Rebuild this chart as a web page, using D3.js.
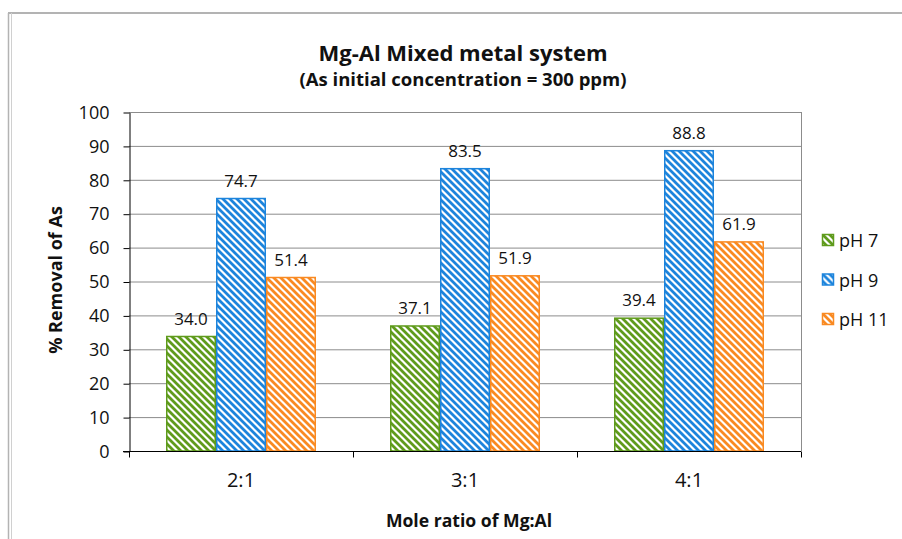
<!DOCTYPE html>
<html>
<head>
<meta charset="utf-8">
<script src="https://cdn.jsdelivr.net/npm/d3@7"></script>
<style>
  body { margin: 0; background: #fff; }
  svg { display: block; font-family: "Open Sans", sans-serif; }
</style>
</head>
<body>
<div id="chart"></div>
<script>
// --- data ---
const categories = ["2:1", "3:1", "4:1"];
const seriesNames = ["pH 7", "pH 9", "pH 11"];
const ph7 = [34.0, 37.1, 39.4];
const ph9 = [74.7, 83.5, 88.8];
const ph11 = [51.4, 51.9, 61.9];
const yTicks = [0, 10, 20, 30, 40, 50, 60, 70, 80, 90, 100];

const seriesValues = [ph7, ph9, ph11];
const colors = ["#5f9b1c", "#1d84dc", "#f98a22"];

const width = 902, height = 539;
const margin = { top: 112, right: 101, bottom: 88, left: 129 };

const svg = d3.select("#chart").append("svg")
  .attr("width", width)
  .attr("height", height);

// stripe patterns (wide downward diagonal)
const defs = svg.append("defs");
colors.forEach((c, i) => {
  const p = defs.append("pattern")
    .attr("id", "stripe" + i)
    .attr("patternUnits", "userSpaceOnUse")
    .attr("width", 7)
    .attr("height", 7);
  p.append("rect").attr("width", 7).attr("height", 7).attr("fill", "#fff");
  p.append("path")
    .attr("d", "M-1,-1 L8,8 M-8,-1 L1,8 M6,-1 L15,8")
    .attr("stroke", c)
    .attr("stroke-width", 2.8);
});

// outer chart frame
svg.append("line").attr("x1", 8).attr("x2", width).attr("y1", 13).attr("y2", 13)
  .attr("stroke", "#b3b3b3").attr("stroke-width", 2);
svg.append("line").attr("x1", 8.5).attr("x2", 8.5).attr("y1", 13).attr("y2", height)
  .attr("stroke", "#b3b3b3").attr("stroke-width", 1.5);
svg.append("line").attr("x1", 11.5).attr("x2", 11.5).attr("y1", 13).attr("y2", height)
  .attr("stroke", "#d0d0d0").attr("stroke-width", 1);

// titles
svg.append("text")
  .attr("x", 463).attr("y", 61)
  .attr("text-anchor", "middle")
  .attr("font-size", "22px").attr("font-weight", "bold").attr("fill", "#111")
  .text("Mg-Al Mixed metal system");
svg.append("text")
  .attr("x", 463).attr("y", 86)
  .attr("text-anchor", "middle")
  .attr("font-size", "18.5px").attr("font-weight", "bold").attr("fill", "#111")
  .text("(As initial concentration = 300 ppm)");

const x0 = d3.scaleBand()
  .domain(categories)
  .range([margin.left, width - margin.right]);

const groupW = 150;
const x1 = d3.scaleBand()
  .domain(seriesNames)
  .range([(x0.bandwidth() - groupW) / 2, (x0.bandwidth() + groupW) / 2]);

const y = d3.scaleLinear()
  .domain([0, 100])
  .range([height - margin.bottom, margin.top]);

// gridlines
svg.append("g")
  .selectAll("line")
  .data(yTicks.filter(d => d > 0))
  .join("line")
  .attr("x1", margin.left).attr("x2", width - margin.right)
  .attr("y1", d => y(d) + 0.5).attr("y2", d => y(d) + 0.5)
  .attr("stroke", "#8c8c8c").attr("stroke-width", 1);

// right border of plot
svg.append("line")
  .attr("x1", width - margin.right + 0.5).attr("x2", width - margin.right + 0.5)
  .attr("y1", margin.top).attr("y2", y(0))
  .attr("stroke", "#8c8c8c");

// y axis
const yAxis = svg.append("g")
  .attr("transform", `translate(${margin.left + 0.5},0.5)`)
  .call(d3.axisLeft(y).tickValues(yTicks).tickSize(6).tickPadding(14).tickSizeOuter(0));
yAxis.select(".domain").attr("stroke", "#000");
yAxis.selectAll("line").attr("stroke", "#000");
yAxis.selectAll("text").attr("font-size", "18px").attr("fill", "#111")
  .attr("font-family", "'Open Sans', sans-serif");

// bars
const groups = svg.append("g")
  .selectAll("g")
  .data(categories)
  .join("g")
  .attr("transform", d => `translate(${x0(d)},0)`);

groups.selectAll("rect")
  .data((d, ci) => seriesNames.map((s, si) => ({ s, si, v: seriesValues[si][ci] })))
  .join("rect")
  .attr("x", d => x1(d.s) + 0.75)
  .attr("width", x1.bandwidth() - 1.5)
  .attr("y", d => y(d.v) + 0.75)
  .attr("height", d => y(0) - y(d.v) - 0.75)
  .attr("fill", d => `url(#stripe${d.si})`)
  .attr("stroke", d => colors[d.si])
  .attr("stroke-width", 1.5);

groups.selectAll("text.lbl")
  .data((d, ci) => seriesNames.map((s, si) => ({ s, si, v: seriesValues[si][ci] })))
  .join("text")
  .attr("class", "lbl")
  .attr("x", d => x1(d.s) + x1.bandwidth() / 2)
  .attr("y", d => y(d.v) - 11)
  .attr("text-anchor", "middle")
  .attr("font-size", "17px").attr("fill", "#111")
  .text(d => d.v.toFixed(1));

// x axis
const xAxis = svg.append("g")
  .attr("transform", `translate(0,${y(0) + 0.5})`);
xAxis.append("line")
  .attr("x1", margin.left - 6).attr("x2", width - margin.right)
  .attr("stroke", "#000");
xAxis.selectAll("line.tk")
  .data(categories.map(c => x0(c)).concat([x0(categories[categories.length - 1]) + x0.bandwidth()]))
  .join("line")
  .attr("class", "tk")
  .attr("x1", d => d + 0.5).attr("x2", d => d + 0.5)
  .attr("y1", 0).attr("y2", 6)
  .attr("stroke", "#000");
xAxis.selectAll("text")
  .data(categories)
  .join("text")
  .attr("x", d => x0(d) + x0.bandwidth() / 2)
  .attr("y", 35)
  .attr("text-anchor", "middle")
  .attr("font-size", "20px").attr("fill", "#111")
  .text(d => d);

// axis titles
svg.append("text")
  .attr("x", 469).attr("y", 527)
  .attr("text-anchor", "middle")
  .attr("font-size", "17.6px").attr("font-weight", "bold").attr("fill", "#111")
  .text("Mole ratio of Mg:Al");
svg.append("text")
  .attr("transform", `translate(62,280) rotate(-90)`)
  .attr("text-anchor", "middle")
  .attr("font-size", "18px").attr("font-weight", "bold").attr("fill", "#111")
  .text("% Removal of As");

// legend
const legend = svg.append("g").attr("transform", "translate(822,234)");
seriesNames.forEach((s, i) => {
  const g = legend.append("g").attr("transform", `translate(0,${i * 39.5})`);
  g.append("rect")
    .attr("x", 0.5).attr("y", 0.5)
    .attr("width", 11).attr("height", 11)
    .attr("fill", `url(#stripe${i})`)
    .attr("stroke", colors[i]).attr("stroke-width", 1.5);
  g.append("text")
    .attr("x", 17).attr("y", 13)
    .attr("font-size", "18px").attr("fill", "#111")
    .text(s);
});
</script>
</body>
</html>
